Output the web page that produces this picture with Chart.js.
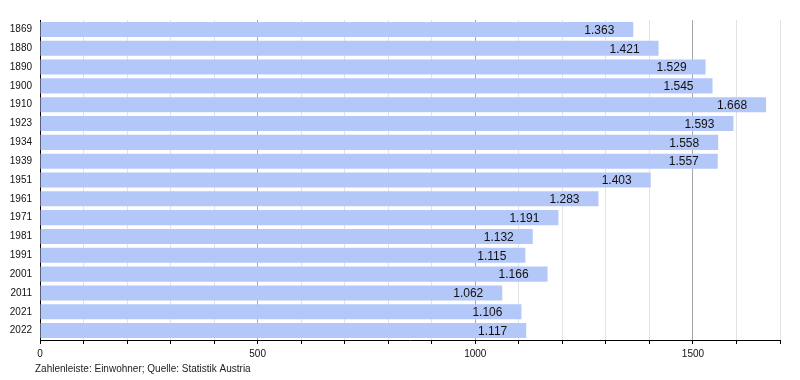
<!DOCTYPE html>
<html>
<head>
<meta charset="utf-8">
<script src="https://cdn.jsdelivr.net/npm/chart.js@4"></script>
<style>
  html, body { margin: 0; padding: 0; background: #fff; }
  #wrap { width: 800px; height: 380px; }
</style>
</head>
<body>
<div id="wrap"><canvas id="grafica" width="800" height="380"></canvas></div>
<script>
const jahre = ["1869", "1880", "1890", "1900", "1910", "1923", "1934", "1939", "1951", "1961", "1971", "1981", "1991", "2001", "2011", "2021", "2022"];
const einwohner = [1363, 1421, 1529, 1545, 1668, 1593, 1558, 1557, 1403, 1283, 1191, 1132, 1115, 1166, 1062, 1106, 1117];
const achseMax = 1700;
const quelle = "Zahlenleiste: Einwohner; Quelle: Statistik Austria";

const schrift = '"Liberation Sans", Arial, sans-serif';

function deutsch(v) {
  return String(v).replace(/\B(?=(\d{3})+(?!\d))/g, ".");
}

// Werte rechts in den Balken schreiben
const werteText = {
  id: "werteText",
  afterDatasetsDraw(c) {
    const ctx = c.ctx;
    const meta = c.getDatasetMeta(0);
    ctx.save();
    ctx.font = "12px " + schrift;
    ctx.fillStyle = "#111";
    ctx.textAlign = "right";
    ctx.textBaseline = "middle";
    meta.data.forEach((bar, i) => {
      ctx.fillText(deutsch(einwohner[i]), bar.x - 19, bar.y + 1);
    });
    ctx.restore();
  }
};

const fussText = {
  id: "fussText",
  afterDraw(c) {
    const ctx = c.ctx;
    ctx.save();
    ctx.font = "10px " + schrift;
    ctx.fillStyle = "#222";
    ctx.textAlign = "left";
    ctx.textBaseline = "middle";
    ctx.fillText(quelle, 35, 369);
    ctx.restore();
  }
};

new Chart(document.getElementById("grafica"), {
  type: "bar",
  data: {
    labels: jahre,
    datasets: [{
      data: einwohner,
      backgroundColor: "#b3c8f8",
      borderWidth: 0,
      barPercentage: 0.8,
      categoryPercentage: 1
    }]
  },
  options: {
    indexAxis: "y",
    responsive: false,
    animation: false,
    layout: { padding: { top: 20, right: 20, bottom: 20, left: 0 } },
    plugins: {
      legend: { display: false },
      tooltip: { enabled: false }
    },
    scales: {
      x: {
        min: 0,
        max: achseMax,
        afterFit(s) { s.height = 20; },
        ticks: {
          stepSize: 100,
          autoSkip: false,
          maxRotation: 0,
          padding: 4,
          color: "#111",
          font: { size: 10, family: schrift },
          callback: v => (v % 500 === 0 ? v : "")
        },
        grid: {
          color: ctx => (ctx.tick && ctx.tick.value % 500 === 0 ? "#a8a8a8" : "#e2e2e2"),
          tickColor: "#000",
          tickLength: 4
        },
        border: { color: "#000", width: 1 }
      },
      y: {
        afterFit(s) { s.width = 40; },
        ticks: {
          padding: 8,
          color: "#111",
          font: { size: 10, family: schrift }
        },
        grid: { display: false, drawTicks: false },
        border: { color: "#000", width: 1 }
      }
    }
  },
  plugins: [werteText, fussText]
});
</script>
</body>
</html>
